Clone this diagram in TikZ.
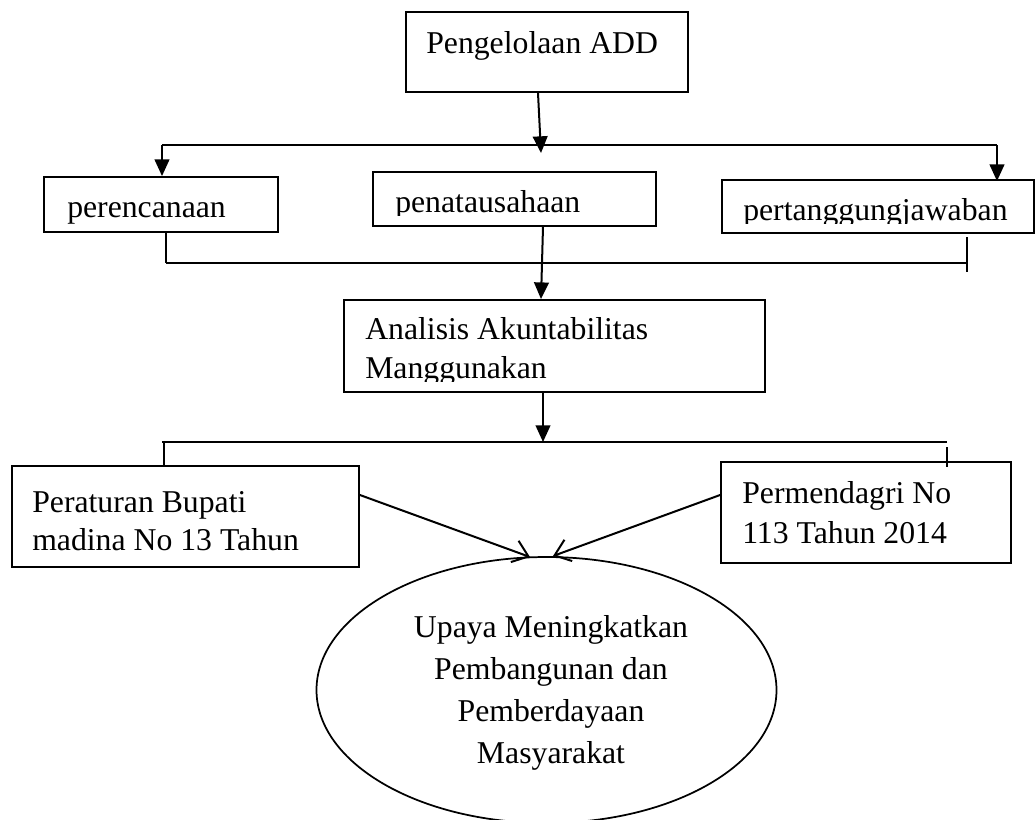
\documentclass[tikz,border=0pt]{standalone}
\usepackage{fontspec}
\setmainfont{Liberation Serif}
\usetikzlibrary{arrows.meta,calc,shapes.geometric}
\begin{document}
\begin{tikzpicture}[x=0.75pt,y=-0.75pt,
  box/.style={draw, line width=1.4pt, inner sep=0pt},
  txt/.style={anchor=base west, inner sep=0pt, font=\fontsize{23.8}{28}\selectfont},
  ctxt/.style={anchor=base, inner sep=0pt, font=\fontsize{23.8}{28}\selectfont},
  ln/.style={line width=1.5pt},
  thinl/.style={line width=0.9pt},
  arr/.style={line width=1.5pt, -{Triangle[length=12.5pt,width=11pt]}},
  oarr/.style={line width=1.5pt, -{Straight Barb[length=11pt,width=17pt]}}]
\useasboundingbox (0,0) rectangle (1035,819);

% boxes
\node[box, minimum width=211.5pt, minimum height=60pt] (top) at (547,52) {};
\node[box, minimum width=175.5pt, minimum height=41.25pt] (peren) at (161,204.5) {};
\node[box, minimum width=212.25pt, minimum height=40.5pt] (penat) at (514.5,199) {};
\node[box, minimum width=234pt, minimum height=39.75pt] (pertang) at (878,206.5) {};
\node[box, minimum width=315.75pt, minimum height=69pt] (anal) at (554.5,346) {};
\node[box, minimum width=260.25pt, minimum height=75.75pt] (perat) at (185.5,516.5) {};
\node[box, minimum width=217.5pt, minimum height=75.75pt] (permen) at (866,512.5) {};
\node[draw, ellipse, line width=1.3pt, minimum width=345pt, minimum height=199.5pt, inner sep=0pt] (upaya) at (546.5,690) {};

% texts
\node[txt] (ttop) at (426,53) {Pengelolaan ADD};
\node[txt] (tperen) at (67,217) {perencanaan};
\begin{scope}
  \clip (373,172) rectangle (656,215);
  \node[txt] (tpenat) at (395,212) {penatausahaan};
\end{scope}
\begin{scope}
  \clip (722,180) rectangle (1034,223);
  \node[txt] (tpertang) at (743,220) {pertanggungjawaban};
\end{scope}
\node[txt] (tanal1) at (365,339) {Analisis Akuntabilitas};
\begin{scope}
  \clip (344,300) rectangle (765,381);
  \node[txt] (tanal2) at (365,378) {Manggunakan};
\end{scope}
\node[txt] (tperat1) at (32,512) {Peraturan Bupati};
\node[txt] (tperat2) at (32,550) {madina No 13 Tahun};
\node[txt] (tpermen1) at (742,503) {Permendagri No};
\node[txt] (tpermen2) at (742,543) {113 Tahun 2014};
\node[ctxt] (tu1) at (551,637) {Upaya Meningkatkan};
\node[ctxt] (tu2) at (551,679) {Pembangunan dan};
\node[ctxt] (tu3) at (551,721) {Pemberdayaan};
\node[ctxt] (tu4) at (551,763) {Masyarakat};

% connectors
\coordinate (j1) at (541,153);
\draw[arr] ($(top.south)+(-9,0)$) -- (j1);
\coordinate (bL) at (162,145);
\coordinate (bR) at (997,145);
\draw[ln] (bL) -- (bR);
\draw[arr] (bL) -- (bL |- peren.north);
\draw[arr] (bR) -- ($(bR |- pertang.north)+(0,2)$);

\coordinate (cL) at (166,263);
\coordinate (cR) at (967,263);
\coordinate (cRt) at (967,237);
\coordinate (cRb) at (967,272);
\draw[thinl] (cL |- peren.south) -- (cL);
\draw[ln] (cL) -- (cR);
\draw[thinl] (cRt) -- (cRb);
\draw[arr] ($(penat.south)+(28.5,0)$) -- ($(anal.north)+(-13.5,0)$);

\coordinate (dM) at (543,442);
\coordinate (dL) at (162,442);
\coordinate (dR) at (947,442);
\coordinate (dLv) at (164,442);
\coordinate (dRt) at (947,447);
\coordinate (dRb) at (947,467);
\draw[arr] ($(anal.south)+(-11.5,0)$) -- (dM);
\draw[ln] (dL) -- (dR);
\draw[thinl] (dLv) -- (dLv |- perat.north);
\draw[thinl] (dRt) -- (dRb);

\coordinate (eL) at (530,557);
\coordinate (eR) at (553,556);
\draw[oarr] ($(perat.east)+(0,-21.5)$) -- (eL);
\draw[oarr] ($(permen.west)+(0,-17.5)$) -- (eR);
\end{tikzpicture}
\end{document}
